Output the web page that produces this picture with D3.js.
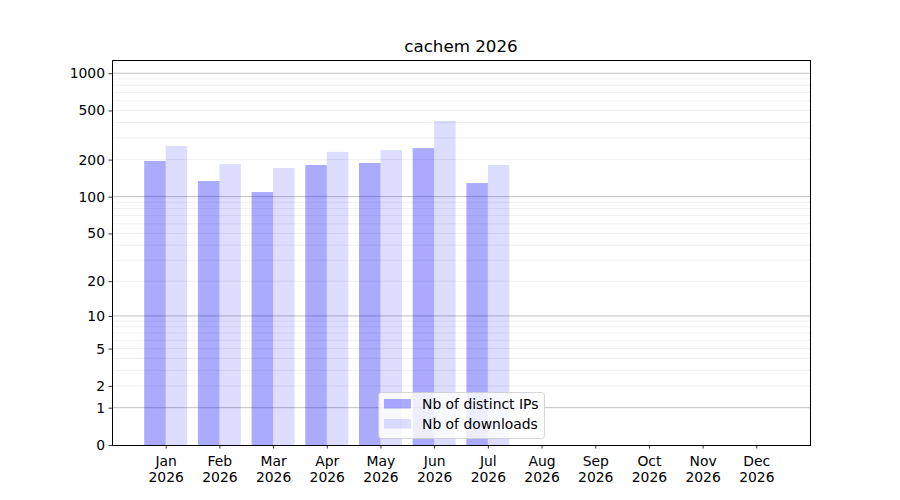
<!DOCTYPE html>
<html><head><meta charset="utf-8">
<script src="https://cdn.jsdelivr.net/npm/d3@7"></script>
<style>body{margin:0;background:#fff}svg{font-family:"DejaVu Sans",sans-serif}</style>
</head><body>
<svg id="c" width="900" height="500"></svg>
<script>
const title = "cachem 2026";
const months = ["Jan","Feb","Mar","Apr","May","Jun","Jul","Aug","Sep","Oct","Nov","Dec"];
const yearLabel = "2026";
const distinctIPs = [195, 134, 109, 181, 188, 248, 129];
const downloads = [258, 184, 171, 231, 239, 411, 181];
const yTickValues = [0, 1, 2, 5, 10, 20, 50, 100, 200, 500, 1000];
const seriesNames = ["Nb of distinct IPs", "Nb of downloads"];

const svg = d3.select("#c");
const L = 112, R = 810, T = 60, B = 445;
const x = d3.scaleLinear().domain([-1, 12]).range([L, R]);
const ylog = d3.scaleLog().domain([1, 1280]).range([B, T]);
const y = v => ylog(v + 1);
const bw = x(0.4) - x(0);

// minor grid
const minor = [];
[1, 10, 100].forEach(d => { for (let k = 2; k <= 9; k++) minor.push(k * d); });
const g = svg.append("g");
g.selectAll("line.mi").data(minor).join("line")
  .attr("x1", L).attr("x2", R).attr("y1", d => y(d)).attr("y2", d => y(d))
  .attr("stroke", "#ebebeb").attr("stroke-width", 0.8);
g.selectAll("line.ma").data([1, 10, 100, 1000]).join("line")
  .attr("x1", L).attr("x2", R).attr("y1", d => y(d)).attr("y2", d => y(d))
  .attr("stroke", "#b0b0b0").attr("stroke-width", 0.8);

// bars
svg.append("g").selectAll("rect").data(distinctIPs).join("rect")
  .attr("x", (d, i) => x(i - 0.4)).attr("width", bw)
  .attr("y", d => y(d)).attr("height", d => B - y(d))
  .attr("fill", "blue").attr("fill-opacity", 0.333);
svg.append("g").selectAll("rect").data(downloads).join("rect")
  .attr("x", (d, i) => x(i)).attr("width", bw)
  .attr("y", d => y(d)).attr("height", d => B - y(d))
  .attr("fill", "blue").attr("fill-opacity", 0.135);

// axes
const xa = svg.append("g").attr("transform", `translate(0,${B})`)
  .call(d3.axisBottom(x).tickValues(d3.range(12)).tickSize(3.5).tickPadding(3.5).tickFormat(() => ""));
xa.attr("font-family", null).attr("font-size", null);
xa.select(".domain").remove();
xa.selectAll(".tick line").attr("stroke", "#000").attr("stroke-width", 0.8);
xa.selectAll(".tick").each(function (d) {
  const t = d3.select(this).select("text").attr("font-size", "13.9px").attr("fill", "#000").attr("dy", null).attr("y", 0);
  t.append("tspan").attr("x", 0).attr("y", 21).text(months[d]);
  t.append("tspan").attr("x", 0).attr("y", 37).text(yearLabel);
});
const ya = svg.append("g").attr("transform", `translate(${L},0)`)
  .call(d3.axisLeft(ylog).tickValues(yTickValues.map(v => v + 1)).tickSize(3.5).tickPadding(3.5).tickFormat(d => String(Math.round(d - 1))));
ya.attr("font-family", null).attr("font-size", null);
ya.select(".domain").remove();
ya.selectAll(".tick line").attr("stroke", "#000").attr("stroke-width", 0.8);
ya.selectAll(".tick text").attr("font-size", "13.9px").attr("fill", "#000");

svg.append("rect").attr("x", L).attr("y", T).attr("width", R - L).attr("height", B - T)
  .attr("fill", "none").attr("stroke", "#000").attr("stroke-width", 1).attr("shape-rendering", "crispEdges");

svg.append("text").attr("x", (L + R) / 2).attr("y", 52).attr("text-anchor", "middle")
  .attr("font-size", "16.7px").text(title);

// legend
const lg = svg.append("g");
lg.append("rect").attr("x", 378.5).attr("y", 392.5).attr("width", 166).attr("height", 46).attr("rx", 3)
  .attr("fill", "#fff").attr("fill-opacity", 0.8).attr("stroke", "#cccccc").attr("stroke-width", 0.8);
[0.333, 0.135].forEach((op, i) => {
  lg.append("rect").attr("x", 384).attr("y", 399 + i * 20).attr("width", 27).attr("height", 9.5)
    .attr("fill", "blue").attr("fill-opacity", op);
  lg.append("text").attr("x", 422).attr("y", 408.5 + i * 20).attr("font-size", "13.9px").text(seriesNames[i]);
});
</script>
</body></html>
